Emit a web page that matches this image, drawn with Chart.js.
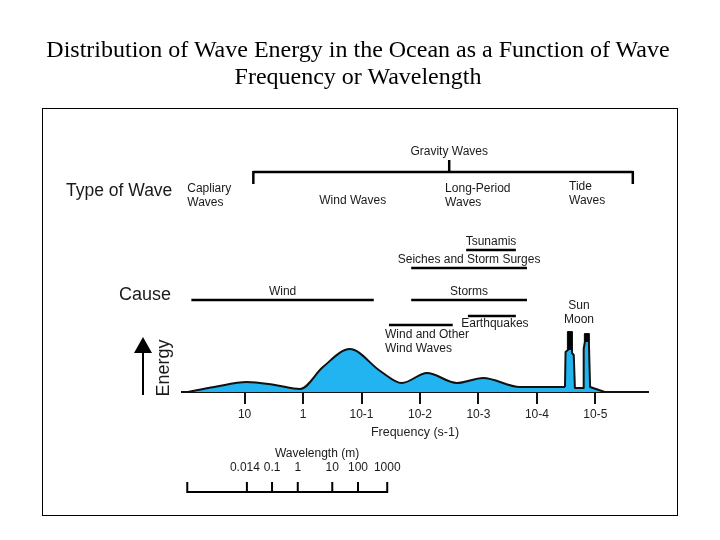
<!DOCTYPE html>
<html>
<head>
<meta charset="utf-8">
<script src="https://cdn.jsdelivr.net/npm/chart.js@4.4.0/dist/chart.umd.min.js"></script>
<style>
  body { margin: 0; background: #fff; }
  #wrap { position: relative; width: 720px; height: 540px; }
  #title {
    position: absolute; left: 0; top: 36px; width: 716px;
    text-align: center; font-family: "Liberation Serif", "Times New Roman", serif;
    font-size: 24px; line-height: 27px; color: #000;
  }
  canvas { position: absolute; left: 0; top: 0; }
</style>
</head>
<body>
<div id="wrap">
  <canvas id="grafico" width="720" height="540"></canvas>
  <div id="title">Distribution of Wave Energy in the Ocean as a Function of Wave<br>Frequency or Wavelength</div>
</div>
<script>
// x values are log10 of the frequency (s-1); the axis runs high -> low frequency
const freqExp = [1, 0, -1, -2, -3, -4, -5];
const freqLabels = ['10', '1', '10-1', '10-2', '10-3', '10-4', '10-5'];

// smooth part of the spectrum (relative energy)
const continuumLogF = [1.97, 1.52, 0.96, 0.48, 0.05, -0.34, -0.80, -1.32, -1.69, -2.12, -2.63, -3.08, -3.71, -4.48];
const continuumEnergy = [0, 5, 10, 7, 3, 25, 43, 21, 9, 19, 9, 14, 5, 5];

// tide peaks (sun, moon)
const tideLogF = [-4.48, -4.49, -4.53, -4.53, -4.60, -4.60, -4.63, -4.65, -4.79, -4.80, -4.82, -4.82, -4.89, -4.89, -4.91, -5.16];
const tideEnergy = [5, 40, 42, 60, 60, 39, 37, 4, 4, 43, 50, 58, 58, 47, 5, 0];
const tideCapLogF = [-4.564, -4.564, null, -4.855, -4.855];
const tideCapEnergy = [42, 60, null, 50, 58];

// wave types and causes, as frequency ranges (log10 f)
const waveTypes = ['Capliary\nWaves', 'Wind Waves', 'Long-Period\nWaves', 'Tide\nWaves'];
const waveTypeAt = [1.98, -0.85, -2.43, -4.55];
const gravityFrom = 0.85, gravityTo = -5.64, gravityMid = -2.5;

const causeNames = ['Wind', 'Storms', 'Seiches and Storm Surges', 'Tsunamis', 'Earthquakes', 'Wind and Other\nWind Waves'];
const causeFrom = [1.91, -1.85, -1.85, -2.79, -2.82, -1.47];
const causeTo = [-1.21, -3.83, -3.83, -3.64, -3.64, -2.56];
const tideCauseAt = -4.72;

// wavelength ruler: frequency position under each wavelength mark
const wavelengthLabels = ['0.014', '0.1', '1', '10', '100', '1000'];
const wavelengthAt = [0.96, 0.53, 0.09, -0.50, -0.94, -1.44];
const rulerStart = 1.98;

const SANS = '"Liberation Sans", Arial, Helvetica, sans-serif';
const AZUL = '#22b4f0';

const pts = (xs, ys) => xs.map((x, i) => ({ x: x === null ? -4.7 : x, y: ys[i] }));

function texto(ctx, str, x, y, size, align) {
    ctx.font = `${size}px ${SANS}`;
    ctx.textAlign = align || 'center';
    ctx.textBaseline = 'middle';
    str.split('\n').forEach((l, i) => ctx.fillText(l, x, y + i * 13.5));
}

function linea(ctx, x1, y1, x2, y2, w) {
    ctx.lineWidth = w;
    ctx.beginPath();
    ctx.moveTo(x1, y1);
    ctx.lineTo(x2, y2);
    ctx.stroke();
}

const diagrama = {
    id: 'diagrama',
    afterDraw(chart) {
        const ctx = chart.ctx;
        const px = v => chart.scales.x.getPixelForValue(v);
        ctx.save();
        ctx.strokeStyle = '#000';
        ctx.fillStyle = '#1a1a1a';

        // frame
        ctx.lineWidth = 1;
        ctx.strokeRect(42.5, 108.5, 635, 407);

        // type of wave row
        texto(ctx, 'Type of Wave', 66, 191, 17.5, 'left');
        texto(ctx, 'Gravity Waves', px(gravityMid), 152, 12);
        const g1 = px(gravityFrom), g2 = px(gravityTo), gm = px(gravityMid);
        linea(ctx, g1, 172, g2, 172, 2.5);
        linea(ctx, g1, 171, g1, 184, 2.5);
        linea(ctx, g2, 171, g2, 184, 2.5);
        linea(ctx, gm, 160, gm, 172, 2.5);
        const typeY = [189, 201, 189, 187];
        waveTypes.forEach((t, i) => {
            texto(ctx, t, px(waveTypeAt[i]), typeY[i], 12, t === 'Wind Waves' ? 'center' : 'left');
        });

        // causes
        texto(ctx, 'Cause', 145, 295, 18);
        const lineY = [300, 300, 268, 250, 316, 325];
        causeNames.forEach((c, i) => {
            const a = px(causeFrom[i]), b = px(causeTo[i]);
            linea(ctx, a, lineY[i], b, lineY[i], 2.5);
            if (i === 4) texto(ctx, c, (a + b) / 2 + 3, 324, 12);
            else if (i === 5) texto(ctx, c, a - 4, 335, 12, 'left');
            else texto(ctx, c, (a + b) / 2, lineY[i] - 8, 12);
        });
        texto(ctx, 'Sun\nMoon', px(tideCauseAt), 306, 12);

        // energy arrow
        ctx.fillStyle = '#000';
        linea(ctx, 143, 395, 143, 348, 2);
        ctx.beginPath();
        ctx.moveTo(143, 337);
        ctx.lineTo(134, 353);
        ctx.lineTo(152, 353);
        ctx.closePath();
        ctx.fill();
        ctx.fillStyle = '#1a1a1a';
        ctx.save();
        ctx.translate(164, 368);
        ctx.rotate(-Math.PI / 2);
        texto(ctx, 'Energy', 0, 0, 18);
        ctx.restore();

        // wavelength ruler
        const r0 = px(rulerStart);
        const rPos = wavelengthAt.map(px);
        const rEnd = rPos[rPos.length - 1];
        texto(ctx, 'Wavelength (m)', (rPos[0] + rEnd) / 2, 454, 12);
        linea(ctx, r0, 492, rEnd, 492, 2);
        linea(ctx, r0, 482, r0, 493, 2);
        rPos.forEach((p, i) => {
            linea(ctx, p, 482, p, 493, 2);
            texto(ctx, wavelengthLabels[i], p + (i === 0 ? -2 : 0), 468, 12);
        });
        ctx.restore();
    }
};

new Chart(document.getElementById('grafico'), {
    type: 'line',
    data: {
        datasets: [
            {
                label: 'Peak tops',
                data: pts(tideCapLogF, tideCapEnergy),
                borderColor: '#000',
                borderWidth: 4,
                fill: false,
                pointRadius: 0,
                clip: false
            },
            {
                label: 'Tides',
                data: pts(tideLogF, tideEnergy),
                borderColor: '#111',
                borderWidth: 2,
                borderJoinStyle: 'round',
                backgroundColor: AZUL,
                fill: 'origin',
                tension: 0,
                pointRadius: 0,
                clip: false
            },
            {
                label: 'Energy',
                data: pts(continuumLogF, continuumEnergy),
                borderColor: '#111',
                borderWidth: 2,
                backgroundColor: AZUL,
                fill: 'origin',
                cubicInterpolationMode: 'monotone',
                pointRadius: 0,
                clip: false
            }
        ]
    },
    options: {
        responsive: false,
        animation: false,
        layout: { padding: { left: 182, right: 72, top: 332, bottom: 96 } },
        plugins: { legend: { display: false }, tooltip: { enabled: false } },
        scales: {
            x: {
                type: 'linear',
                reverse: true,
                min: -5.9,
                max: 2.07,
                afterBuildTicks: (s) => { s.ticks = freqExp.map(value => ({ value })); },
                afterFit: (s) => { s.height = 52; },
                ticks: {
                    autoSkip: false,
                    maxRotation: 0,
                    padding: 3,
                    color: '#222',
                    font: { size: 12, family: SANS },
                    callback: (v) => freqLabels[freqExp.indexOf(v)]
                },
                grid: { drawOnChartArea: false, drawTicks: true, tickLength: 12, color: '#111', lineWidth: 2 },
                border: { display: true, color: '#111', width: 2 },
                title: {
                    display: true,
                    text: 'Frequency (s-1)',
                    color: '#222',
                    font: { size: 12.5, family: SANS },
                    padding: { top: 4, bottom: 4 }
                }
            },
            y: { display: false, min: 0, max: 60 }
        }
    },
    plugins: [diagrama]
});
</script>
</body>
</html>
